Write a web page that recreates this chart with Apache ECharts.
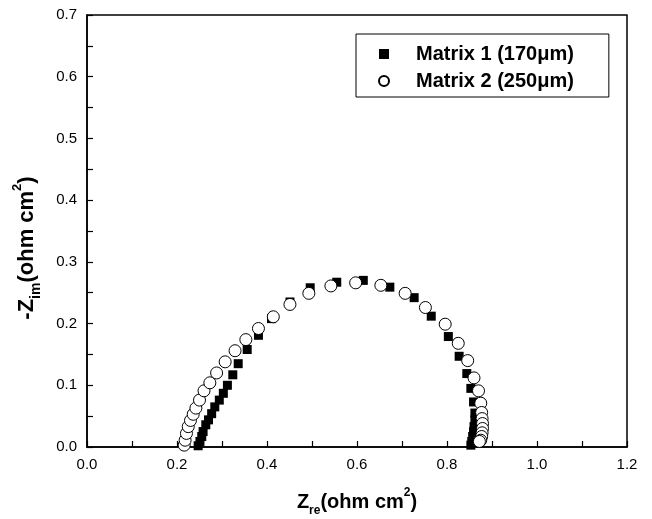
<!DOCTYPE html>
<html>
<head>
<meta charset="utf-8">
<script src="https://cdn.jsdelivr.net/npm/echarts@6/dist/echarts.min.js"></script>
<style>
  html, body { margin: 0; padding: 0; background: #fff; }
  #main { width: 652px; height: 519px; }
</style>
</head>
<body>
<div id="main"></div>
<script type="text/javascript">
  // Matrix 1 (170um) - filled squares
  var m1Re = [0.247, 0.251, 0.255, 0.258, 0.264, 0.270, 0.277, 0.284, 0.294, 0.303, 0.312, 0.324, 0.336, 0.356, 0.381, 0.410, 0.451, 0.496, 0.555, 0.614, 0.673, 0.727, 0.765, 0.803, 0.827, 0.844, 0.853, 0.859, 0.862, 0.862, 0.860, 0.859, 0.857, 0.855, 0.853];
  var m1Im = [0.002, 0.009, 0.017, 0.025, 0.036, 0.044, 0.054, 0.065, 0.076, 0.087, 0.100, 0.117, 0.135, 0.158, 0.181, 0.208, 0.235, 0.258, 0.267, 0.270, 0.259, 0.242, 0.212, 0.179, 0.147, 0.119, 0.095, 0.073, 0.055, 0.044, 0.033, 0.025, 0.017, 0.009, 0.003];
  // Matrix 2 (250um) - open circles
  var m2Re = [0.216, 0.218, 0.221, 0.225, 0.230, 0.236, 0.242, 0.250, 0.260, 0.273, 0.288, 0.307, 0.329, 0.353, 0.381, 0.414, 0.451, 0.493, 0.542, 0.597, 0.653, 0.707, 0.752, 0.796, 0.825, 0.846, 0.860, 0.870, 0.875, 0.877, 0.878, 0.879, 0.879, 0.878, 0.877, 0.875, 0.872];
  var m2Im = [0.003, 0.011, 0.022, 0.033, 0.043, 0.053, 0.063, 0.076, 0.091, 0.104, 0.120, 0.138, 0.156, 0.174, 0.192, 0.211, 0.231, 0.249, 0.261, 0.266, 0.262, 0.249, 0.226, 0.199, 0.168, 0.140, 0.112, 0.091, 0.071, 0.056, 0.046, 0.038, 0.030, 0.023, 0.017, 0.011, 0.009];
  var seriesNames = ['Matrix 1 (170μm)', 'Matrix 2 (250μm)'];

  function pairs(xs, ys) {
    var out = [];
    for (var i = 0; i < xs.length; i++) {
      out.push([xs[i], ys[i]]);
    }
    return out;
  }

  var font = 'Liberation Sans, Arial, sans-serif';

  // bold title with small sub/superscripts
  function titleRich(size) {
    var lh = size + 10;
    var base = { fontWeight: 'bold', color: '#000', fontFamily: font, lineHeight: lh };
    return {
      b: Object.assign({ fontSize: size, verticalAlign: 'middle' }, base),
      sub: Object.assign({ fontSize: Math.round(size * 0.62), verticalAlign: 'bottom' }, base),
      sup: Object.assign({ fontSize: Math.round(size * 0.6), verticalAlign: 'top' }, base)
    };
  }

  var tickLabel = {
    color: '#000',
    fontFamily: font,
    fontSize: 15,
    margin: 10,
    formatter: function (v) { return v.toFixed(1); }
  };

  var chart = echarts.init(document.getElementById('main'));
  var option = {
    animation: false,
    backgroundColor: '#fff',
    grid: {
      left: 87,
      right: 25,
      top: 15,
      bottom: 72,
      outerBoundsMode: 'none',
      containLabel: false,
      show: true,
      borderColor: '#000',
      borderWidth: 1.5,
      backgroundColor: 'transparent'
    },
    legend: {
      orient: 'vertical',
      left: 356,
      top: 34,
      padding: [10, 35, 6, 22],
      itemGap: 7,
      itemWidth: 10,
      itemHeight: 10,
      borderColor: '#000',
      borderWidth: 1,
      data: seriesNames,
      textStyle: {
        fontFamily: font,
        fontSize: 20,
        lineHeight: 20,
        fontWeight: 'bold',
        color: '#000',
        padding: [0, 0, 0, 22]
      }
    },
    xAxis: {
      type: 'value',
      min: 0,
      max: 1.2,
      interval: 0.2,
      name: '{b|Z}{sub|re}{b|(ohm cm}{sup|2}{b|)}',
      nameLocation: 'middle',
      nameGap: 40,
      nameTextStyle: { rich: titleRich(20) },
      axisLine: { show: true, lineStyle: { color: '#000', width: 1.5 } },
      axisTick: { show: true, inside: true, length: 6, lineStyle: { color: '#000', width: 1.2 } },
      minorTick: { show: true, splitNumber: 2, length: 6, lineStyle: { color: '#000', width: 1.2 } },
      splitLine: { show: false },
      axisLabel: tickLabel
    },
    yAxis: {
      type: 'value',
      min: 0,
      max: 0.7,
      interval: 0.1,
      name: '{b|-Z}{sub|im}{b|(ohm cm}{sup|2}{b|)}',
      nameLocation: 'middle',
      nameRotate: 90,
      nameGap: 44,
      nameTextStyle: { rich: titleRich(22), padding: [0, 34, 0, 0] },
      axisLine: { show: true, lineStyle: { color: '#000', width: 1.5 } },
      axisTick: { show: true, inside: true, length: 6, lineStyle: { color: '#000', width: 1.2 } },
      minorTick: { show: true, splitNumber: 2, length: 6, lineStyle: { color: '#000', width: 1.2 } },
      splitLine: { show: false },
      axisLabel: tickLabel
    },
    series: [
      {
        name: seriesNames[0],
        type: 'scatter',
        symbol: 'rect',
        symbolSize: 9,
        itemStyle: { color: '#000', opacity: 1 },
        data: pairs(m1Re, m1Im),
        z: 2
      },
      {
        name: seriesNames[1],
        type: 'scatter',
        symbol: 'circle',
        symbolSize: 12,
        itemStyle: { color: '#fff', borderColor: '#000', borderWidth: 1, opacity: 1 },
        data: pairs(m2Re, m2Im),
        z: 3
      }
    ]
  };
  chart.setOption(option);
</script>
</body>
</html>
